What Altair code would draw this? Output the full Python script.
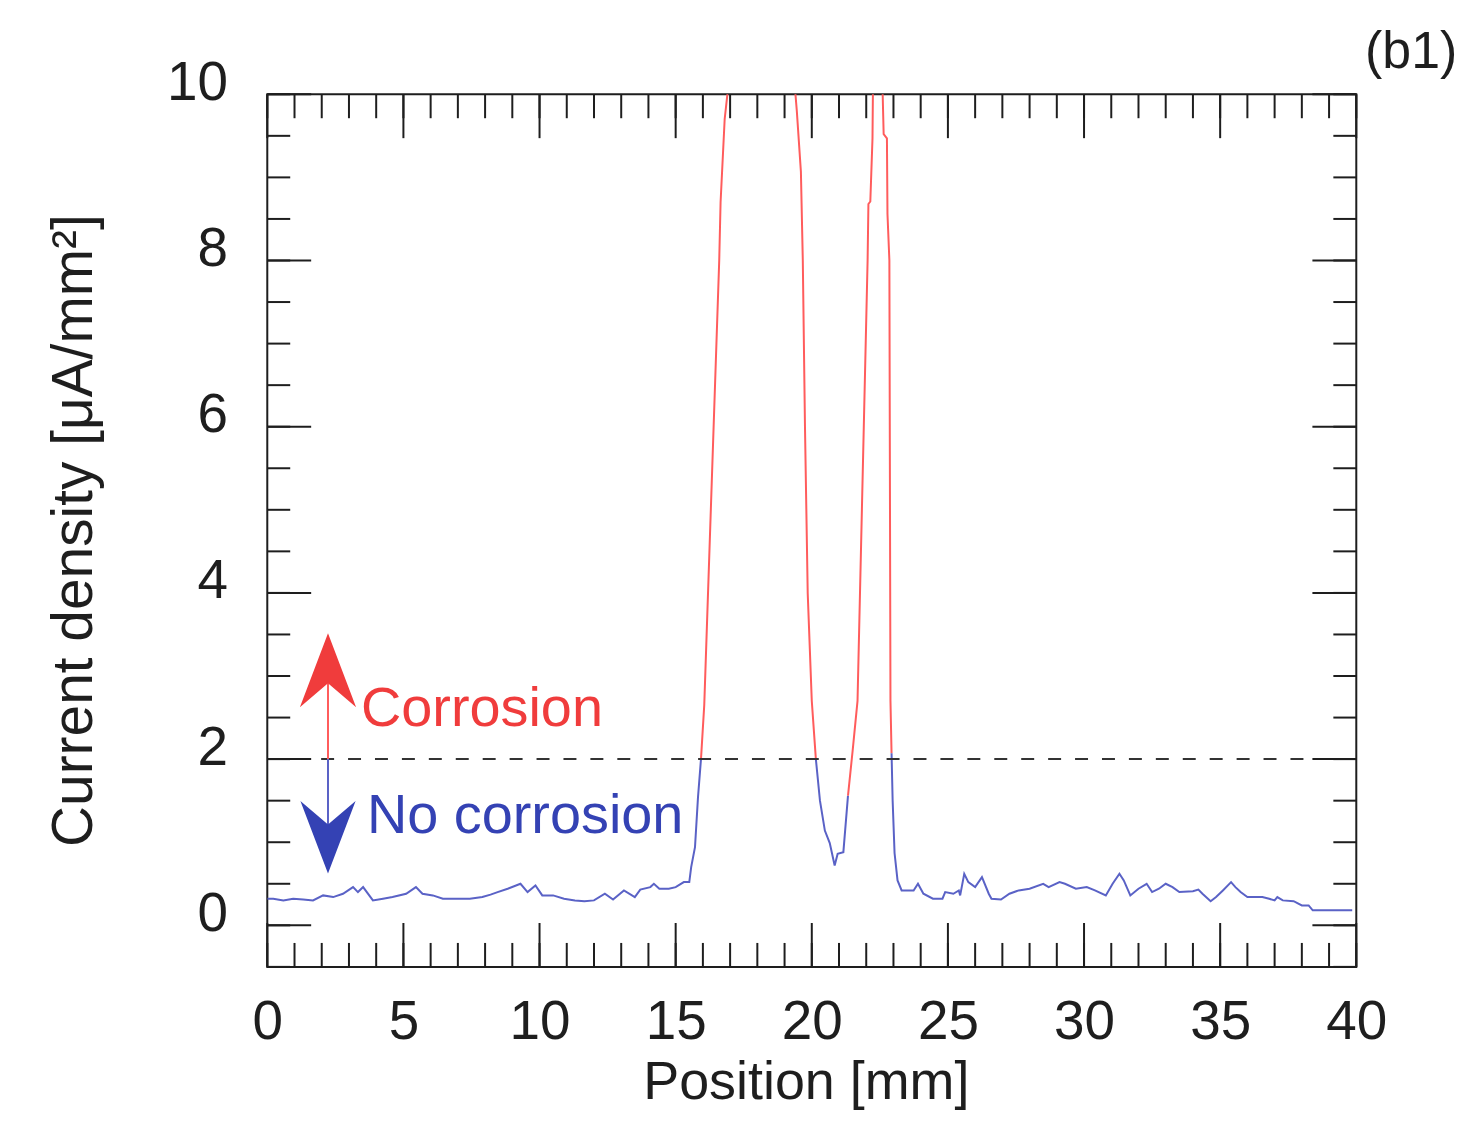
import altair as alt
import pandas as pd

# ---------------- data ----------------
# segment 1: no corrosion (blue)
seg1_x = [0.0, 0.22, 0.59, 0.95, 1.32, 1.68, 2.05, 2.42, 2.78, 3.15, 3.33, 3.52, 3.88, 4.25, 4.6,
          5.1, 5.46, 5.7, 6.08, 6.45, 6.9, 7.44, 7.9, 8.2, 8.46, 8.83, 9.3, 9.56, 9.85, 10.1,
          10.5, 10.9, 11.3, 11.65, 12.0, 12.4, 12.7, 13.1, 13.5, 13.7, 14.07, 14.2, 14.4, 14.75,
          15.0, 15.3, 15.5, 15.57, 15.71, 15.82, 15.93]
seg1_y = [0.32, 0.32, 0.30, 0.32, 0.31, 0.30, 0.36, 0.34, 0.38, 0.46, 0.40, 0.46, 0.30, 0.32, 0.34,
          0.38, 0.46, 0.38, 0.36, 0.32, 0.32, 0.32, 0.34, 0.37, 0.40, 0.44, 0.50, 0.40, 0.48, 0.36,
          0.36, 0.32, 0.30, 0.29, 0.30, 0.38, 0.31, 0.42, 0.34, 0.43, 0.46, 0.50, 0.44, 0.44,
          0.46, 0.52, 0.52, 0.70, 0.94, 1.54, 2.0]
# segment 2: corrosion (red), first peak
seg2_x = [15.93, 16.05, 16.6, 16.65, 16.8, 16.9, 17.0, 18.2, 19.35, 19.45, 19.6, 19.67, 19.75,
          19.85, 20.0, 20.15]
seg2_y = [2.0, 2.65, 8.0, 8.7, 9.7, 10.0, 10.4, 13.0, 10.2, 9.8, 9.07, 8.0, 6.0,
          4.0, 2.7, 2.0]
# segment 3: no corrosion (blue), valley
seg3_x = [20.15, 20.3, 20.48, 20.66, 20.84, 20.95, 21.16, 21.33]
seg3_y = [2.0, 1.5, 1.14, 0.99, 0.72, 0.86, 0.88, 1.56]
# segment 4: corrosion (red), second peak
seg4_x = [21.33, 21.5, 21.68, 22.05, 22.08, 22.15, 22.23, 22.25, 22.42, 22.6, 22.64, 22.76,
          22.78, 22.85, 22.89, 22.93]
seg4_y = [1.56, 2.1, 2.7, 8.0, 8.68, 8.71, 9.47, 10.2, 11.5, 10.05, 9.52, 9.47,
          8.56, 8.0, 2.7, 2.07]
# segment 5: no corrosion (blue)
seg5_x = [22.93, 22.97, 23.04, 23.15, 23.3, 23.74, 23.9, 24.1, 24.45, 24.8, 24.9, 25.2, 25.4,
          25.45, 25.6, 25.75, 26.0, 26.25, 26.5, 26.6, 26.95, 27.26, 27.6, 28.0, 28.5, 28.7,
          29.1, 29.3, 29.7, 30.1, 30.4, 30.8, 31.05, 31.3, 31.46, 31.7, 32.0, 32.3, 32.5, 32.75,
          33.0, 33.25, 33.5, 34.0, 34.2, 34.35, 34.65, 34.85, 35.1, 35.4, 35.56, 35.75, 36.0,
          36.55, 36.8, 37.0, 37.1, 37.3, 37.7, 38.0, 38.25, 38.4, 38.75, 39.85]
seg5_y = [2.07, 1.5, 0.87, 0.54, 0.42, 0.42, 0.50, 0.38, 0.32, 0.32, 0.40, 0.38, 0.42,
          0.36, 0.62, 0.52, 0.46, 0.58, 0.38, 0.32, 0.31, 0.38, 0.42, 0.44, 0.50, 0.46,
          0.52, 0.50, 0.44, 0.46, 0.42, 0.36, 0.50, 0.62, 0.54, 0.36, 0.44, 0.50, 0.40, 0.44,
          0.50, 0.46, 0.40, 0.41, 0.43, 0.38, 0.29, 0.34, 0.42, 0.52, 0.46, 0.40, 0.34,
          0.34, 0.32, 0.30, 0.34, 0.30, 0.29, 0.24, 0.24, 0.18, 0.18, 0.18]
seg_state = ["no corrosion", "corrosion", "no corrosion", "corrosion", "no corrosion"]

threshold = [2.0]
x_major = [0, 5, 10, 15, 20, 25, 30, 35, 40]
x_minor = list(range(0, 41))
y_major = [0, 2, 4, 6, 8, 10]
y_minor = [v / 2 for v in range(-1, 21)]

arrow_x = [2.23]
arrow_top = [3.07]
arrow_bot = [1.06]

ann_text = ["Corrosion", "No corrosion"]
ann_x = [3.44, 3.66]
ann_y = [2.6, 1.32]
panel_label = ["(b1)"]

# ---------------- styling ----------------
RED_LINE = "#ff5c5c"
BLUE_LINE = "#5a62c6"
RED_TXT = "#f03c3c"
BLUE_TXT = "#3442b4"
INK = "#1e1e1e"
FONT = "Liberation Sans"
W, H = 1092, 875

rows = []
for k, (xs_, ys_) in enumerate([(seg1_x, seg1_y), (seg2_x, seg2_y), (seg3_x, seg3_y),
                                (seg4_x, seg4_y), (seg5_x, seg5_y)]):
    for i, (a, b) in enumerate(zip(xs_, ys_)):
        rows.append({"pos": a, "cur": b, "state": seg_state[k], "seg": k, "i": i})
curve = pd.DataFrame(rows)

xscale = alt.Scale(domain=[0, 40], nice=False, zero=False)
yscale = alt.Scale(domain=[-0.5, 10], nice=False, zero=False)

xaxis = alt.Axis(values=x_major, format="d", ticks=False, domain=False, grid=False,
                 labelFont=FONT, labelFontSize=55, labelColor=INK, labelPadding=29,
                 labelFlush=False, labelOverlap=False,
                 title="Position [mm]", titleFont=FONT, titleFontSize=54,
                 titleFontWeight="normal", titleColor=INK, titleX=540, titleY=132,
                 titleBaseline="alphabetic")
yaxis = alt.Axis(values=y_major, format="d", ticks=False, domain=False, grid=False,
                 labelFont=FONT, labelFontSize=55, labelColor=INK, labelPadding=40,
                 labelOffset=-12, labelFlush=False, labelOverlap=False,
                 title="Current density [μA/mm²]", titleFont=FONT, titleFontSize=57,
                 titleFontWeight="normal", titleColor=INK, titleX=-176, titleY=437,
                 titleBaseline="alphabetic")

line = alt.Chart(curve).mark_line(strokeWidth=2, clip=True).encode(
    x=alt.X("pos:Q", scale=xscale, axis=xaxis),
    y=alt.Y("cur:Q", scale=yscale, axis=yaxis),
    color=alt.Color("state:N", scale=alt.Scale(domain=["corrosion", "no corrosion"],
                                               range=[RED_LINE, BLUE_LINE]), legend=None),
    detail="seg:N",
    order="i:Q",
)

thr = alt.Chart(pd.DataFrame({"t": threshold})).mark_rule(
    strokeDash=[13, 14], color="#333333", strokeWidth=2).encode(
    y=alt.Y("t:Q", scale=yscale), x=alt.value(0), x2=alt.value(W))

def xticks(vals, length):
    d = pd.DataFrame({"v": vals})
    bot = alt.Chart(d).mark_rule(color=INK, strokeWidth=2).encode(
        x=alt.X("v:Q", scale=xscale), y=alt.value(H), y2=alt.value(H - length))
    top = alt.Chart(d).mark_rule(color=INK, strokeWidth=2).encode(
        x=alt.X("v:Q", scale=xscale), y=alt.value(0), y2=alt.value(length))
    return [bot, top]

def yticks(vals, length):
    d = pd.DataFrame({"v": vals})
    left = alt.Chart(d).mark_rule(color=INK, strokeWidth=2).encode(
        y=alt.Y("v:Q", scale=yscale), x=alt.value(0), x2=alt.value(length))
    right = alt.Chart(d).mark_rule(color=INK, strokeWidth=2).encode(
        y=alt.Y("v:Q", scale=yscale), x=alt.value(W - length), x2=alt.value(W))
    return [left, right]

tick_layers = xticks(x_minor, 24) + xticks(x_major, 44) + yticks(y_minor, 23) + yticks(y_major, 44)

arr = pd.DataFrame({"x": arrow_x, "top": arrow_top, "bot": arrow_bot, "t": threshold})
arrow_red = alt.Chart(arr).mark_rule(color=RED_LINE, strokeWidth=2).encode(
    x=alt.X("x:Q", scale=xscale), y=alt.Y("t:Q", scale=yscale), y2="top:Q")
arrow_blue = alt.Chart(arr).mark_rule(color=BLUE_LINE, strokeWidth=2).encode(
    x=alt.X("x:Q", scale=xscale), y=alt.Y("t:Q", scale=yscale), y2="bot:Q")
UP = "M0,-1L0.76,1L0,0.35L-0.76,1Z"
DOWN = "M0,1L0.76,-1L0,-0.35L-0.76,-1Z"
head_red = alt.Chart(arr).mark_point(shape=UP, filled=True, size=5500, opacity=1,
                                     color=RED_TXT, strokeWidth=0).encode(
    x=alt.X("x:Q", scale=xscale), y=alt.Y("top:Q", scale=yscale))
head_blue = alt.Chart(arr).mark_point(shape=DOWN, filled=True, size=5300, opacity=1,
                                      color=BLUE_TXT, strokeWidth=0).encode(
    x=alt.X("x:Q", scale=xscale), y=alt.Y("bot:Q", scale=yscale))

ann = pd.DataFrame({"txt": ann_text, "x": ann_x, "y": ann_y, "c": [RED_TXT, BLUE_TXT]})
ann_layer = alt.Chart(ann).mark_text(align="left", baseline="middle", font=FONT,
                                     fontSize=56).encode(
    x=alt.X("x:Q", scale=xscale), y=alt.Y("y:Q", scale=yscale), text="txt:N",
    color=alt.Color("c:N", scale=None))

lab = alt.Chart(pd.DataFrame({"t": panel_label})).mark_text(
    align="center", baseline="alphabetic", font=FONT, fontSize=52, color=INK).encode(
    x=alt.value(1147), y=alt.value(-26), text="t:N")

chart = alt.layer(line, thr, *tick_layers, arrow_red, arrow_blue, head_red, head_blue,
                  ann_layer, lab).properties(
    width=W, height=H,
    background="white",
    autosize=alt.AutoSizeParams(type="none"),
    padding={"left": 260, "top": 85, "right": 105, "bottom": 144},
).configure_view(stroke=INK, strokeWidth=2)

chart.save("out.html", embed_options={"renderer": "svg", "actions": False})
